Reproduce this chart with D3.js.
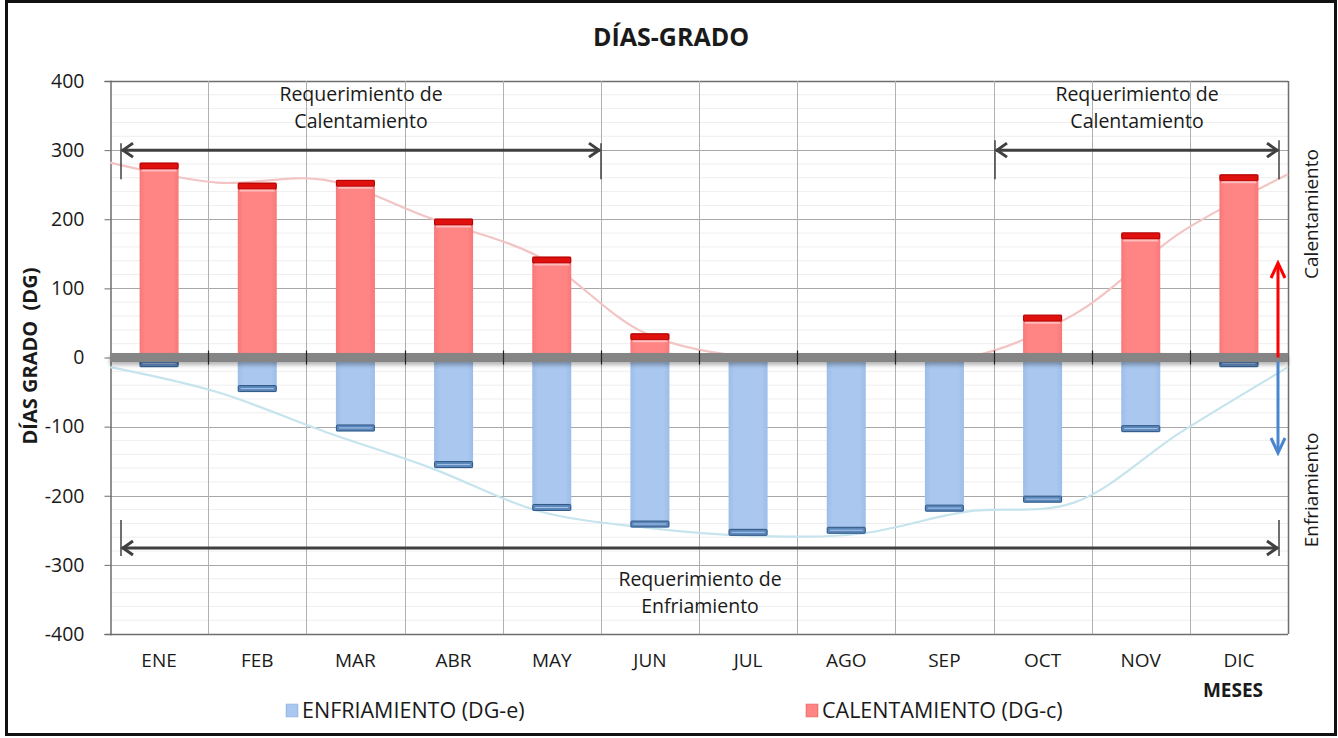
<!DOCTYPE html>
<html><head><meta charset="utf-8">
<script src="https://cdn.jsdelivr.net/npm/d3@7"></script>
<style>
body{margin:0;background:#fff;}
text{font-family:"Open Sans",Lato,sans-serif;fill:#1a1a1a;}
</style></head>
<body><svg id="c" width="1338" height="738"></svg>
<script>
const months = ["ENE","FEB","MAR","ABR","MAY","JUN","JUL","AGO","SEP","OCT","NOV","DIC"];
const calentamiento = [282, 253, 257, 201, 146, 35, 0, 0, 0, 62, 181, 265];
const enfriamiento = [-14, -50, -107, -160, -222, -246, -258, -255, -223, -210, -108, -14];
const yTicks = [-400, -300, -200, -100, 0, 100, 200, 300, 400];

const svg = d3.select("#c");
const L = 110, R = 1288, T = 81, B = 634;
const y = d3.scaleLinear().domain([-400, 400]).range([B, T]);
const x = d3.scaleBand().domain(months).range([L, R]).padding(0);
const xl = d3.scalePoint().domain(months).range([L, R]).padding(0);
const bw = 39;

const defs = svg.append("defs");
function grad(id, stops){
  const g = defs.append("linearGradient").attr("id", id).attr("x1","0").attr("x2","1").attr("y1","0").attr("y2","0");
  stops.forEach(s => g.append("stop").attr("offset", s[0]).attr("stop-color", s[1]));
}
grad("gRed", [[0,"#f87878"],[0.15,"#ff8585"],[0.85,"#ff8585"],[1,"#f87878"]]);
grad("gBlue", [[0,"#9dbde8"],[0.15,"#a9c7ef"],[0.85,"#a9c7ef"],[1,"#9dbde8"]]);
const sh = defs.append("filter").attr("id","shadow").attr("filterUnits","userSpaceOnUse")
  .attr("x",L-10).attr("y",y(0)-20).attr("width",R-L+20).attr("height",40);
sh.append("feGaussianBlur").attr("in","SourceAlpha").attr("stdDeviation",2);
sh.append("feOffset").attr("dx",0).attr("dy",3).attr("result","b");
sh.append("feComponentTransfer").append("feFuncA").attr("type","linear").attr("slope",0.3);
const mg = sh.append("feMerge"); mg.append("feMergeNode"); mg.append("feMergeNode").attr("in","SourceGraphic");

// outer frame
svg.append("rect").attr("x",6.5).attr("y",1.5).attr("width",1329).attr("height",733)
  .attr("fill","#fff").attr("stroke","#111").attr("stroke-width",3);

// minor gridlines
const minor = d3.range(-400, 401, 20).filter(v => v % 100 !== 0);
svg.append("g").selectAll("line").data(minor).join("line")
  .attr("x1", L).attr("x2", R).attr("y1", d => y(d)).attr("y2", d => y(d))
  .attr("stroke", "#eeeeee").attr("stroke-width", 1);
// major horizontal
svg.append("g").selectAll("line").data(yTicks).join("line")
  .attr("x1", L).attr("x2", R).attr("y1", d => Math.round(y(d))+0.5).attr("y2", d => Math.round(y(d))+0.5)
  .attr("stroke", d => (d===400||d===-400) ? "#6e6e6e" : "#a8a8a8").attr("stroke-width", d => (d===400||d===-400)?1.5:1);
// vertical gridlines
svg.append("g").selectAll("line").data(months.slice(1)).join("line")
  .attr("x1", d => Math.round(x(d))+0.5).attr("x2", d => Math.round(x(d))+0.5).attr("y1", T).attr("y2", B)
  .attr("stroke", "#b0b0b0").attr("stroke-width", 1);
svg.append("line").attr("x1",R+0.5).attr("x2",R+0.5).attr("y1",T).attr("y2",B).attr("stroke","#6e6e6e").attr("stroke-width",1.5);

// y axis
const ya = svg.append("g").attr("transform", `translate(${L+0.5},0)`)
  .call(d3.axisLeft(y).tickValues(yTicks).tickSize(6).tickPadding(20).tickFormat(d => String(d)));
ya.select(".domain").attr("stroke", "#6e6e6e").attr("stroke-width",1.5);
ya.selectAll(".tick line").attr("stroke", "#6e6e6e");
ya.selectAll("text").style("font-size", "19.5px").style("font-family","'Open Sans'").attr("fill","#1a1a1a");

// smooth lines
const lineGen = d3.line().x((d,i) => xl(months[i])).y(d => y(d)).curve(d3.curveCatmullRom.alpha(0.5));
svg.append("path").attr("d", lineGen(calentamiento)).attr("fill","none").attr("stroke","#f2c4c4").attr("stroke-width",2.2);
svg.append("path").attr("d", lineGen(enfriamiento)).attr("fill","none").attr("stroke","#c6e4ee").attr("stroke-width",2.2);

// bars
const capH = 6;
const gb = svg.append("g");
gb.selectAll(".cb").data(months.map((m,i)=>({m, v:calentamiento[i]})).filter(d=>d.v>0)).join("g").each(function(d){
  const g = d3.select(this), cx = x(d.m) + x.bandwidth()/2;
  g.append("rect").attr("x", cx-bw/2).attr("y", y(d.v)).attr("width", bw).attr("height", y(0)-y(d.v)).attr("fill","url(#gRed)");
  g.append("rect").attr("x", cx-bw/2+0.5).attr("y", y(d.v)+0.5).attr("width", bw-1).attr("height", capH).attr("rx",1)
    .attr("fill","#e0100f").attr("stroke","#a80000").attr("stroke-width",1);
  g.append("line").attr("x1", cx-bw/2+2).attr("x2", cx+bw/2-2).attr("y1", y(d.v)+capH+2).attr("y2", y(d.v)+capH+2)
    .attr("stroke","#ffbcbc").attr("stroke-width",2);
});
gb.selectAll(".eb").data(months.map((m,i)=>({m, v:enfriamiento[i]}))).join("g").each(function(d){
  const g = d3.select(this), cx = x(d.m) + x.bandwidth()/2;
  g.append("rect").attr("x", cx-bw/2).attr("y", y(0)).attr("width", bw).attr("height", y(d.v)-y(0)).attr("fill","url(#gBlue)");
  g.append("rect").attr("x", cx-bw/2+0.5).attr("y", y(d.v)-capH-0.5).attr("width", bw-1).attr("height", capH).attr("rx",1)
    .attr("fill","#5b87bb").attr("stroke","#2f5683").attr("stroke-width",1);
  g.append("line").attr("x1", cx-bw/2+3).attr("x2", cx+bw/2-3).attr("y1", y(d.v)-capH/2-0.5).attr("y2", y(d.v)-capH/2-0.5)
    .attr("stroke","#a9c6ea").attr("stroke-width",1);
});

// zero line
svg.append("rect").attr("x", L).attr("y", y(0)-4.5).attr("width", R-L).attr("height", 9)
  .attr("fill","#858585").attr("filter","url(#shadow)");
// x tick marks on zero line
svg.append("g").selectAll("line").data(months.slice(1)).join("line")
  .attr("x1", d => Math.round(x(d))+0.5).attr("x2", d => Math.round(x(d))+0.5).attr("y1", y(0)-7).attr("y2", y(0)+7)
  .attr("stroke","#222").attr("stroke-width",1.2);

// x labels
svg.append("g").selectAll("text").data(months).join("text")
  .attr("x", d => x(d)+x.bandwidth()/2).attr("y", 667).attr("text-anchor","middle")
  .style("font-size","19px").text(d => d);
svg.append("text").attr("x",1233).attr("y",697).attr("text-anchor","middle")
  .style("font-size","19px").style("font-weight","bold").text("MESES");

// title
svg.append("text").attr("x",671).attr("y",46).attr("text-anchor","middle")
  .style("font-size","25px").style("font-weight","bold").text("DÍAS-GRADO");
// y title
svg.append("text").attr("transform","translate(37,356) rotate(-90)").attr("text-anchor","middle")
  .style("font-size","20px").style("font-weight","bold").attr("xml:space","preserve").text("DÍAS GRADO  (DG)");

// bracket arrows
function bracket(x1, x2, yy, t1, t2){
  const g = svg.append("g").attr("stroke","#404040").attr("fill","none");
  g.append("line").attr("x1",x1+1).attr("x2",x2-1).attr("y1",yy).attr("y2",yy).attr("stroke-width",3);
  g.append("path").attr("d",`M${x1+12},${yy-7} L${x1+2},${yy} L${x1+12},${yy+7}`).attr("stroke-width",3).attr("stroke-linejoin","miter");
  g.append("path").attr("d",`M${x2-12},${yy-7} L${x2-2},${yy} L${x2-12},${yy+7}`).attr("stroke-width",3).attr("stroke-linejoin","miter");
  g.append("line").attr("x1",x1).attr("x2",x1).attr("y1",yy-t1).attr("y2",yy+t2).attr("stroke-width",1.5);
  g.append("line").attr("x1",x2).attr("x2",x2).attr("y1",yy-t1).attr("y2",yy+t2).attr("stroke-width",1.5);
}
bracket(121, 601, y(300), 7, 29);
bracket(995, 1279, y(300), 10, 29);
bracket(121, 1279, 548, 28, 8);

function label2(cx, y1, a, b){
  const t = svg.append("text").attr("text-anchor","middle").style("font-size","19.5px");
  t.append("tspan").attr("x",cx).attr("y",y1).text(a);
  t.append("tspan").attr("x",cx).attr("y",y1+27).text(b);
}
label2(361, 101, "Requerimiento de", "Calentamiento");
label2(1137, 101, "Requerimiento de", "Calentamiento");
label2(700, 586, "Requerimiento de", "Enfriamiento");

// side arrows
svg.append("line").attr("x1",1278).attr("x2",1278).attr("y1",y(0)).attr("y2",266).attr("stroke","#ff0000").attr("stroke-width",3);
svg.append("path").attr("d","M1271,278 L1278,263 L1285,278").attr("fill","none").attr("stroke","#ff0000").attr("stroke-width",3);
svg.append("line").attr("x1",1278).attr("x2",1278).attr("y1",y(0)+4).attr("y2",449).attr("stroke","#4a86d0").attr("stroke-width",3);
svg.append("path").attr("d","M1271,438 L1278,453 L1285,438").attr("fill","none").attr("stroke","#4a86d0").attr("stroke-width",3);

svg.append("text").attr("transform","translate(1318,214) rotate(-90)").attr("text-anchor","middle")
  .style("font-size","19px").text("Calentamiento");
svg.append("text").attr("transform","translate(1318,490) rotate(-90)").attr("text-anchor","middle")
  .style("font-size","19px").text("Enfriamiento");

// legend
const lg = svg.append("g");
lg.append("rect").attr("x",286).attr("y",704).attr("width",12).attr("height",13).attr("fill","url(#gBlue)").attr("stroke","#8fb0dc").attr("stroke-width",0.5);
lg.append("text").attr("x",302).attr("y",718).style("font-size","21.5px").text("ENFRIAMIENTO (DG-e)");
lg.append("rect").attr("x",806).attr("y",704).attr("width",12).attr("height",13).attr("fill","url(#gRed)").attr("stroke","#e06060").attr("stroke-width",0.5);
lg.append("text").attr("x",822).attr("y",718).style("font-size","21.5px").text("CALENTAMIENTO (DG-c)");
</script></body></html>
